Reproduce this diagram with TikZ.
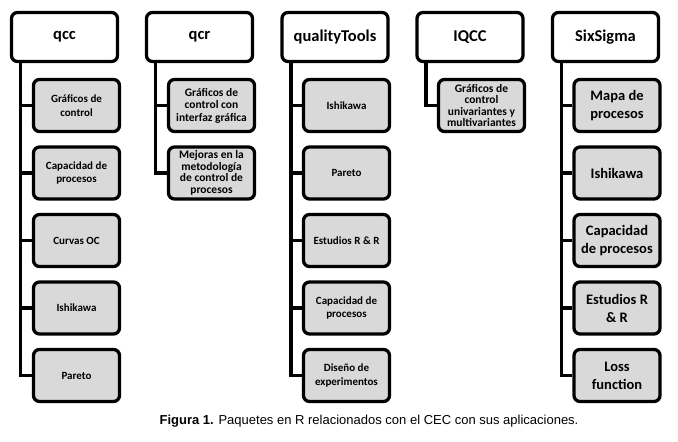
\documentclass[tikz,border=0pt]{standalone}
\usepackage{fontspec}
\setmainfont{Carlito}
\newfontfamily\capfont{Liberation Sans}
\definecolor{boxgray}{RGB}{217,217,217}
\begin{document}
\begin{tikzpicture}[x=1pt,y=-1pt,
  hdr/.style={draw=black,line width=3.3pt,rounded corners=6pt,fill=white,
    minimum width=106pt,minimum height=49pt,inner sep=0pt,
    font=\fontsize{16.5}{18}\selectfont\bfseries},
  kid/.style={draw=black,line width=3.3pt,rounded corners=6pt,fill=boxgray,
    minimum width=86pt,minimum height=52pt,inner sep=0pt,align=center},
  small/.style={font=\fontsize{11}{13.5}\selectfont\bfseries},
  mid/.style={font=\fontsize{11.5}{13}\selectfont\bfseries},
  big/.style={font=\fontsize{14.5}{18}\selectfont\bfseries},
  conn/.style={draw=black,line width=3.3pt}]
\useasboundingbox (0,0) rectangle (678,442);
% headers
\node[hdr] (hqcc) at (64.5,37) {qcc};
\node[hdr] (hqcr) at (199.5,37) {qcr};
\node[hdr] (hqt)  at (335,37) {qualityTools};
\node[hdr] (hiq)  at (470,37) {IQCC};
\node[hdr] (hss)  at (605.5,37) {SixSigma};
% qcc
\node[kid,small] (a1) at (76.5,105.5) {Gráficos de\\control};
\node[kid,small] (a2) at (76.5,173) {Capacidad de\\procesos};
\node[kid,small] (a3) at (76.5,240.5) {Curvas OC};
\node[kid,small] (a4) at (76.5,308) {Ishikawa};
\node[kid,small] (a5) at (76.5,375.5) {Pareto};
% qcr
\node[kid,font=\fontsize{11.5}{12.5}\selectfont\bfseries] (b1) at (211.5,105.5) {Gráficos de\\control con\\interfaz gráfica};
\node[kid,font=\fontsize{11.5}{11.5}\selectfont\bfseries] (b2) at (211.5,173) {Mejoras en la\\metodología\\de control de\\procesos};
% qualityTools
\node[kid,small] (c1) at (346.5,105.5) {Ishikawa};
\node[kid,small] (c2) at (346.5,173) {Pareto};
\node[kid,small] (c3) at (346.5,240.5) {Estudios R \& R};
\node[kid,small] (c4) at (346.5,308) {Capacidad de\\procesos};
\node[kid,small] (c5) at (346.5,375.5) {Diseño de\\experimentos};
% IQCC
\node[kid,font=\fontsize{11.5}{11.5}\selectfont\bfseries] (d1) at (481.5,105.5) {Gráficos de\\control\\univariantes y\\multivariantes};
% SixSigma
\node[kid,big] (e1) at (617,105.5) {Mapa de\\procesos};
\node[kid,big] (e2) at (617,173) {Ishikawa};
\node[kid,big] (e3) at (617,240.5) {Capacidad\\de procesos};
\node[kid,big] (e4) at (617,308) {Estudios R\\\& R};
\node[kid,big] (e5) at (617,375.5) {Loss\\function};
% connectors
\foreach \h/\c in {hqcc/a1,hqcc/a2,hqcc/a3,hqcc/a4,hqcc/a5,
                   hqcr/b1,hqcr/b2,
                   hqt/c1,hqt/c2,hqt/c3,hqt/c4,hqt/c5,
                   hiq/d1,
                   hss/e1,hss/e2,hss/e3,hss/e4,hss/e5}
  \draw[conn] ([xshift=10.5pt]\h.south west) |- (\c.west);
% caption
\node[font=\capfont\fontsize{13}{15}\selectfont] (cap) at (369,421)
  {\textbf{Figura 1.} Paquetes en R relacionados con el CEC con sus aplicaciones.};
\end{tikzpicture}
\end{document}
